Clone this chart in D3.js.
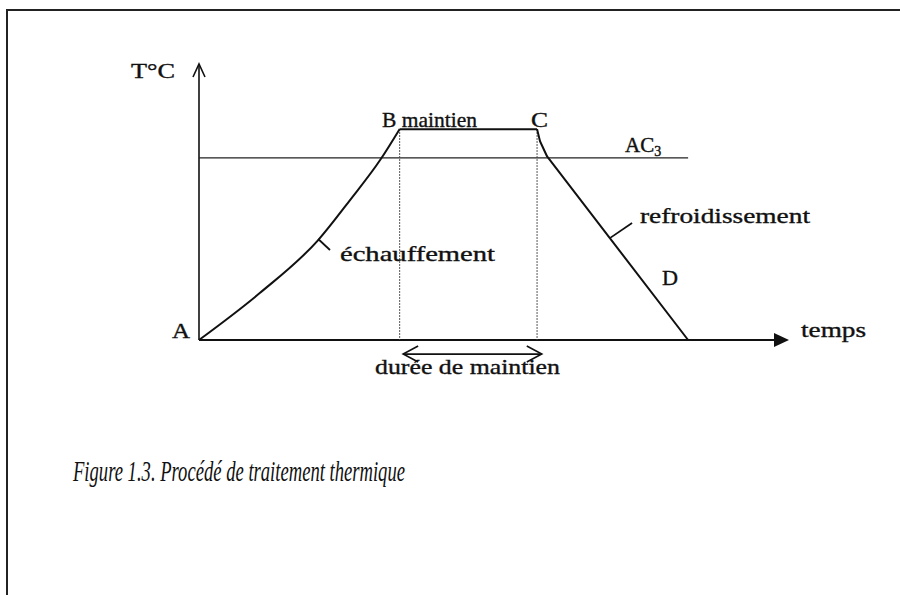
<!DOCTYPE html>
<html lang="fr">
<head>
<meta charset="UTF-8">
<title>Procédé de traitement thermique</title>
<script src="https://d3js.org/d3.v7.min.js"></script>
<style>
  body { margin: 0; background: #fff; }
  svg text { font-family: "Liberation Serif", "Times New Roman", serif; fill: #111; }
</style>
</head>
<body>
<svg id="chart"></svg>
<script>
// profil thermique : temps (u.a.) / température (u.a.)
const heatT = [0, 10.3, 20.2, 25.6, 30.7, 34];
const heatV = [0, 17, 36.2, 50.7, 65.2, 76.4];
const holdT = [34, 57.3];
const holdV = [76.4, 76.4];
const coolT = [57.3, 57.8, 59, 82.9];
const coolV = [76.4, 72, 66.5, 0];
const ac3 = 66;
const axisMax = [100, 100];

const width = 900, height = 595;
const svg = d3.select("#chart").attr("width", width).attr("height", height);

const x = d3.scaleLinear().domain([0, axisMax[0]]).range([199, 789]);
const y = d3.scaleLinear().domain([0, axisMax[1]]).range([340, 64]);

// cadre
svg.append("path")
   .attr("d", "M7,595 V10 H900")
   .attr("fill", "none").attr("stroke", "#222").attr("stroke-width", 2);

// axes
svg.append("line")
   .attr("x1", x(0)).attr("y1", y(0)).attr("x2", x(0)).attr("y2", y(axisMax[1]))
   .attr("stroke", "#111").attr("stroke-width", 1.6);
svg.append("path")
   .attr("d", `M${x(0) - 6},${y(axisMax[1]) + 13} L${x(0)},${y(axisMax[1])} L${x(0) + 6},${y(axisMax[1]) + 13}`)
   .attr("fill", "none").attr("stroke", "#111").attr("stroke-width", 1.6);

svg.append("line")
   .attr("x1", x(0)).attr("y1", y(0)).attr("x2", x(axisMax[0]) - 10).attr("y2", y(0))
   .attr("stroke", "#111").attr("stroke-width", 1.8);
svg.append("path")
   .attr("d", `M${x(axisMax[0])},${y(0)} L${x(axisMax[0]) - 15},${y(0) - 7} L${x(axisMax[0]) - 15},${y(0) + 7} Z`)
   .attr("fill", "#111");

// ligne AC3
svg.append("line")
   .attr("x1", x(0)).attr("y1", y(ac3)).attr("x2", x(coolT[3])).attr("y2", y(ac3))
   .attr("stroke", "#222").attr("stroke-width", 1.3);

// pointillés verticaux B et C
[holdT[0], holdT[1]].forEach(t => {
  svg.append("line")
     .attr("x1", x(t)).attr("y1", y(holdV[0])).attr("x2", x(t)).attr("y2", y(0))
     .attr("stroke", "#444").attr("stroke-width", 1.2)
     .attr("stroke-dasharray", "1.5,1.5");
});

// courbe
svg.append("path")
   .datum(d3.zip(heatT, heatV))
   .attr("d", d3.line().x(d => x(d[0])).y(d => y(d[1])).curve(d3.curveMonotoneX))
   .attr("fill", "none").attr("stroke", "#111").attr("stroke-width", 2);
svg.append("path")
   .datum(d3.zip(holdT, holdV))
   .attr("d", d3.line().x(d => x(d[0])).y(d => y(d[1])))
   .attr("fill", "none").attr("stroke", "#111").attr("stroke-width", 2);
svg.append("path")
   .datum(d3.zip(coolT, coolV))
   .attr("d", d3.line().x(d => x(d[0])).y(d => y(d[1])))
   .attr("fill", "none").attr("stroke", "#111").attr("stroke-width", 2)
   .attr("stroke-linejoin", "round");

// traits de repère des étiquettes
svg.append("line")
   .attr("x1", x(20.2)).attr("y1", y(36.6)).attr("x2", x(22.2)).attr("y2", y(32.6))
   .attr("stroke", "#111").attr("stroke-width", 1.8);
svg.append("line")
   .attr("x1", x(69.7)).attr("y1", y(37)).attr("x2", x(73.4)).attr("y2", y(42.4))
   .attr("stroke", "#111").attr("stroke-width", 1.8);

// double flèche durée de maintien
const ya = y(-5.1), xa0 = x(34.6), xa1 = x(58.1);
svg.append("line").attr("x1", xa0).attr("y1", ya).attr("x2", xa1).attr("y2", ya)
   .attr("stroke", "#111").attr("stroke-width", 1.6);
svg.append("path")
   .attr("d", `M${xa0 + 15},${ya - 8} L${xa0},${ya} L${xa0 + 15},${ya + 8} M${xa1 - 15},${ya - 8} L${xa1},${ya} L${xa1 - 15},${ya + 8}`)
   .attr("fill", "none").attr("stroke", "#111").attr("stroke-width", 1.6);

// textes
const labels = [
  { t: "T°C", x: 131, y: 78, w: 44 },
  { t: "B maintien", x: 382, y: 127, w: 95 },
  { t: "C", x: 531, y: 127, w: 17 },
  { t: "échauffement", x: 340, y: 261, w: 155 },
  { t: "refroidissement", x: 640, y: 223, w: 170 },
  { t: "D", x: 662, y: 285, w: 16 },
  { t: "A", x: 172, y: 338, w: 18 },
  { t: "temps", x: 801, y: 337, w: 65 },
  { t: "durée de maintien", x: 375, y: 374, w: 185 }
];
svg.selectAll(".lbl").data(labels).enter().append("text")
   .attr("class", "lbl")
   .attr("x", d => d.x).attr("y", d => d.y)
   .attr("font-size", 21)
   .attr("textLength", d => d.w).attr("lengthAdjust", "spacingAndGlyphs")
   .attr("stroke", "#111").attr("stroke-width", 0.35)
   .text(d => d.t);

const ac = svg.append("text").attr("x", 625).attr("y", 152)
   .attr("font-size", 21).attr("stroke", "#111").attr("stroke-width", 0.4);
ac.append("tspan").text("AC");
ac.append("tspan").attr("font-size", 14).attr("dy", 4).text("3");

svg.append("text")
   .attr("x", 73).attr("y", 481)
   .attr("font-size", 30).attr("font-style", "italic")
   .attr("textLength", 332).attr("lengthAdjust", "spacingAndGlyphs")
   .text("Figure 1.3. Procédé de traitement thermique");
</script>
</body>
</html>
